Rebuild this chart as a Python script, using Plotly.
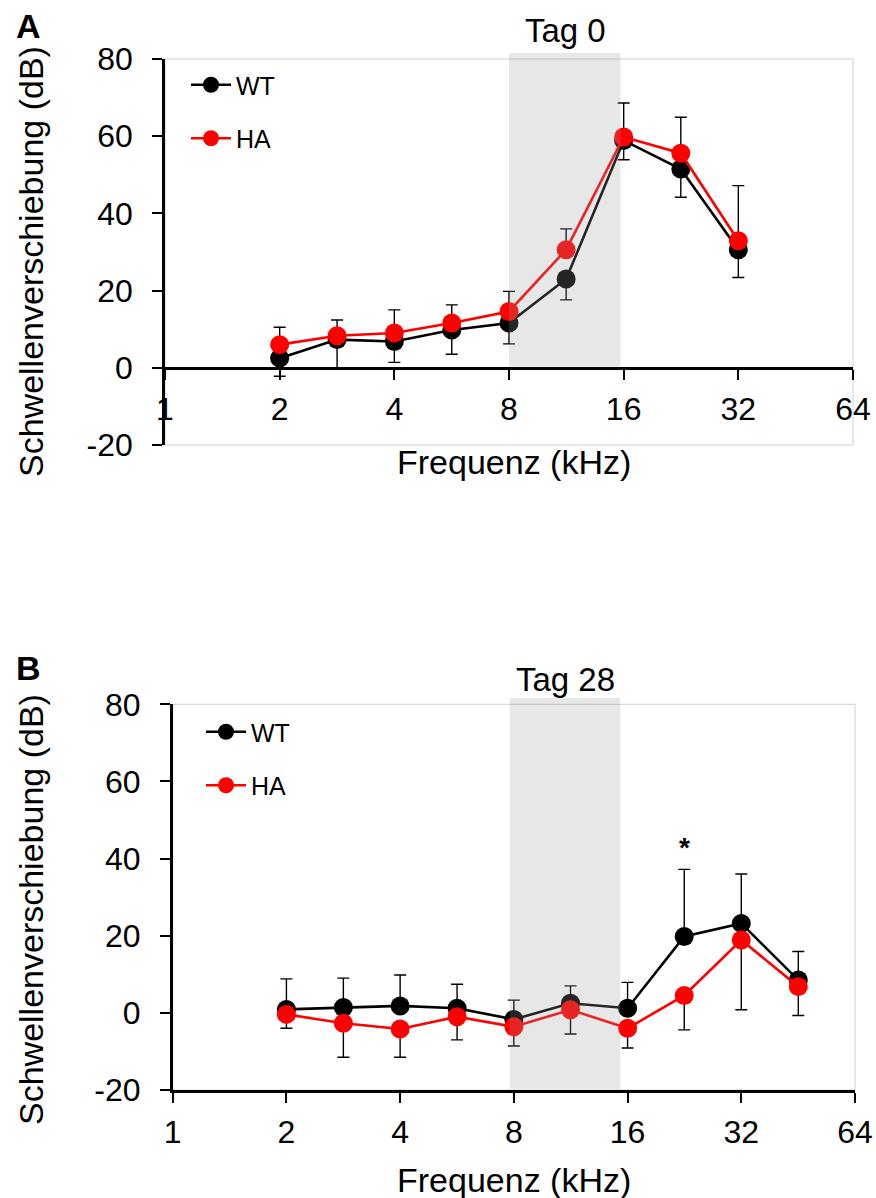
import numpy as np
import plotly.graph_objects as go

W, H = 876, 1198
FONT = "Liberation Sans, Arial, sans-serif"

# ---------------- data ----------------
freq_A = [2, 2.83, 4, 5.66, 8, 11.3, 16, 22.6, 32]
wt_A = [2.5, 7.3, 6.8, 9.8, 11.6, 23.0, 58.9, 51.5, 30.6]
ha_A = [6.0, 8.3, 9.0, 11.6, 14.6, 30.6, 59.8, 55.6, 32.9]
wt_A_err = [4.7, 7.3, 5.4, 6.3, 5.4, 5.4, 5.0, 7.3, 7.2]
ha_A_err = [4.5, 4.1, 6.0, 4.7, 5.2, 5.4, 8.8, 9.3, 14.3]

freq_B = [2, 2.83, 4, 5.66, 8, 11.3, 16, 22.6, 32, 45.3]
wt_B = [0.9, 1.4, 1.8, 1.2, -1.7, 2.5, 1.2, 19.8, 23.2, 8.5]
ha_B = [-0.4, -2.7, -4.2, -1.0, -3.6, 0.8, -4.0, 4.5, 18.9, 6.8]
wt_B_err = [7.9, 7.6, 8.0, 6.2, 5.0, 4.5, 6.7, 17.4, 12.8, 7.4]
ha_B_err = [3.6, 8.8, 7.3, 6.0, 5.0, 6.3, 5.1, 8.9, 18.1, 7.5]

x_ticks = [1, 2, 4, 8, 16, 32, 64]
x_ticktext = ["1", "2", "4", "8", "16", "32", "64"]
y_ticks = [-20, 0, 20, 40, 60, 80]
y_ticktext = ["-20", "0", "20", "40", "60", "80"]
y_range = [-20, 80]

band_A = [8, 15.7]
band_B = [7.8, 15.3]
titles = ["Tag 0", "Tag 28"]
star_B = (22.6, 43.0)


def px(x):
    return x / W


def py(y):
    return 1 - y / H


# layout geometry (pixels)
A_x = (165, 853)
A_y = (59, 445)
B_x = (172.7, 855)
B_y = (704.3, 1090)

yA_dom = [py(A_y[1]), py(A_y[0])]
yB_dom = [py(B_y[1]), py(B_y[0])]
zero_pos_A = yA_dom[0] + (0 - y_range[0]) / (y_range[1] - y_range[0]) * (yA_dom[1] - yA_dom[0])

fig = go.Figure()


def err(arr_minus=None, arr_plus=None):
    n = len(arr_minus if arr_minus is not None else arr_plus)
    return dict(type="data", symmetric=False,
                array=arr_plus if arr_plus is not None else [0] * n,
                arrayminus=arr_minus if arr_minus is not None else [0] * n,
                color="black", thickness=1.4, width=6)


common_line = dict(width=2.6)
# panel A
fig.add_trace(go.Scatter(x=freq_A, y=wt_A, mode="lines+markers", name="WT",
                         line=dict(color="black", **common_line),
                         marker=dict(color="black", size=19),
                         error_y=err(arr_minus=wt_A_err),
                         xaxis="x", yaxis="y", legend="legend", legendgroup="a1"))
fig.add_trace(go.Scatter(x=freq_A, y=ha_A, mode="lines+markers", name="HA",
                         line=dict(color="#ff0000", **common_line),
                         marker=dict(color="#ff0000", size=19),
                         error_y=err(arr_plus=ha_A_err),
                         xaxis="x", yaxis="y", legend="legend", legendgroup="a2"))
# panel B
fig.add_trace(go.Scatter(x=freq_B, y=wt_B, mode="lines+markers", name="WT",
                         line=dict(color="black", **common_line),
                         marker=dict(color="black", size=19),
                         error_y=err(arr_plus=wt_B_err),
                         xaxis="x2", yaxis="y2", legend="legend2", legendgroup="b1"))
fig.add_trace(go.Scatter(x=freq_B, y=ha_B, mode="lines+markers", name="HA",
                         line=dict(color="#ff0000", **common_line),
                         marker=dict(color="#ff0000", size=19),
                         error_y=err(arr_minus=ha_B_err),
                         xaxis="x2", yaxis="y2", legend="legend2", legendgroup="b2"))

tickfont = dict(family=FONT, size=32, color="black")
xcommon = dict(type="log", range=[0, np.log10(64)], tickvals=x_ticks, ticktext=x_ticktext,
               ticks="outside", ticklen=10, tickwidth=2, tickcolor="black",
               showline=True, linecolor="black", linewidth=2.5, showgrid=False,
               zeroline=False, tickfont=tickfont, ticklabelstandoff=2, automargin=False)
ycommon = dict(range=y_range, tickvals=y_ticks, ticktext=y_ticktext, ticks="outside",
               ticklen=10, tickwidth=2,
               tickcolor="black", showline=True, linecolor="black", linewidth=2.5,
               showgrid=False, zeroline=False, tickfont=tickfont, ticklabelstandoff=13,
               automargin=False)

fig.update_layout(
    template="none",
    width=W, height=H, margin=dict(l=0, r=0, t=0, b=0, autoexpand=False),
    paper_bgcolor="white", plot_bgcolor="white",
    font=dict(family=FONT, color="black"),
    xaxis=dict(domain=[px(A_x[0]), px(A_x[1])], anchor="free", position=zero_pos_A, **xcommon),
    yaxis=dict(domain=yA_dom, anchor="x", **ycommon),
    xaxis2=dict(domain=[px(B_x[0]), px(B_x[1])], anchor="y2", **xcommon),
    yaxis2=dict(domain=yB_dom, anchor="x2", **ycommon),
    legend=dict(x=px(186), y=py(62), xanchor="left", yanchor="top",
                font=dict(family=FONT, size=25, color="black"),
                bgcolor="rgba(0,0,0,0)", tracegroupgap=18, itemwidth=40),
    legend2=dict(x=px(201), y=py(709), xanchor="left", yanchor="top",
                 font=dict(family=FONT, size=25, color="black"),
                 bgcolor="rgba(0,0,0,0)", tracegroupgap=18, itemwidth=40),
    showlegend=True,
)

# plot-area light borders
for xr, yr in (("x", "y"), ("x2", "y2")):
    fig.add_shape(type="rect", xref=f"{xr} domain", yref=f"{yr} domain", x0=0, x1=1, y0=0, y1=1,
                  line=dict(color="#d0d0d0", width=1), fillcolor="rgba(0,0,0,0)", layer="below")

# shaded frequency bands (semi-transparent, drawn above the data)
fig.add_shape(type="rect", xref="x", yref="paper", x0=band_A[0], x1=band_A[1],
              y0=zero_pos_A + 0.001, y1=py(53), line=dict(width=0),
              fillcolor="rgba(156,156,156,0.24)", layer="above")
fig.add_shape(type="rect", xref="x2", yref="paper", x0=band_B[0], x1=band_B[1],
              y0=yB_dom[0] + 0.001, y1=py(698), line=dict(width=0),
              fillcolor="rgba(156,156,156,0.24)", layer="above")


def label(text, x, y, size, angle=0):
    fig.add_annotation(text=text, xref="paper", yref="paper", x=px(x), y=py(y), textangle=angle,
                       showarrow=False, xanchor="center", yanchor="middle",
                       font=dict(family=FONT, size=size, color="black"))


# band titles
label(titles[0], 565, 30, 33)
label(titles[1], 565, 679, 33)
# panel letters
label("<b>A</b>", 28, 26, 34)
label("<b>B</b>", 28, 668, 34)
# y titles
ytitle = "Schwellenverschiebung (dB)"
label(ytitle, 31, 262, 34, -90)
label(ytitle, 31, 910, 34, -90)
# x titles
xtitle = "Frequenz (kHz)"
label(xtitle, 514, 462, 34)
label(xtitle, 514, 1180, 34)
# significance star
fig.add_annotation(text="<b>*</b>", xref="x2", yref="y2", x=np.log10(star_B[0]), y=star_B[1],
                   showarrow=False, font=dict(family=FONT, size=28, color="black"))

fig.write_html("out.html")
